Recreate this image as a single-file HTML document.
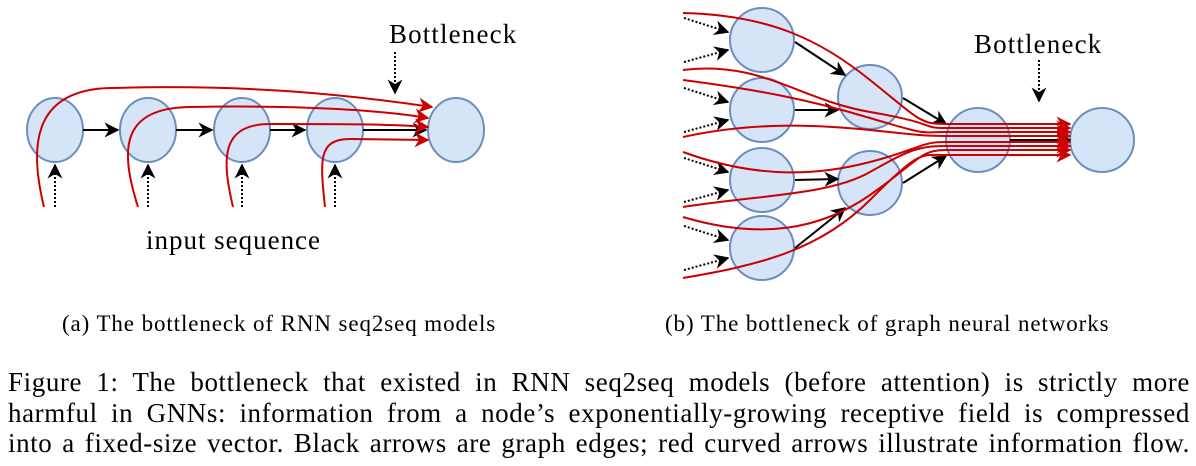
<!DOCTYPE html>
<html><head><meta charset="utf-8"><style>
body{margin:0;width:1196px;height:466px;background:#fff;position:relative;overflow:hidden;font-family:"Liberation Serif",serif;color:#000}
.t{position:absolute;white-space:nowrap}
.fig{position:absolute;left:8px;width:1182px;font-size:27px;letter-spacing:0.6px;line-height:30.5px;text-align:justify;text-align-last:justify;white-space:nowrap}
</style></head><body>
<svg width="1196" height="300" style="position:absolute;left:0;top:0">
<defs>
<marker id="ab2" viewBox="0 0 10 10" refX="9" refY="5" markerWidth="15" markerHeight="15" orient="auto" markerUnits="userSpaceOnUse"><path d="M0,0 L10,5 L0,10 L3,5z" fill="#000"/></marker>
<marker id="ar" viewBox="0 0 10 10" refX="9" refY="5" markerWidth="15" markerHeight="15" orient="auto" markerUnits="userSpaceOnUse"><path d="M0,0 L10,5 L0,10 L3,5z" fill="#c00"/></marker>
</defs>
<g fill="#d6e4f7" stroke="#6c8ebf" stroke-width="2">
<ellipse cx="55" cy="130" rx="28" ry="32"/><ellipse cx="148" cy="130" rx="28" ry="32"/><ellipse cx="242" cy="130" rx="28" ry="32"/><ellipse cx="335" cy="130" rx="28" ry="32"/><ellipse cx="456" cy="130" rx="28" ry="32"/>
</g>
<g stroke="#000" stroke-width="2" fill="none">
<line x1="83" y1="130" x2="118" y2="130" marker-end="url(#ab2)"/>
<line x1="176" y1="130" x2="212" y2="130" marker-end="url(#ab2)"/>
<line x1="270" y1="130" x2="305" y2="130" marker-end="url(#ab2)"/>
<line x1="363" y1="130" x2="426" y2="130" marker-end="url(#ab2)"/>
</g>
<g stroke="#000" stroke-width="2" stroke-dasharray="2,2" fill="none">
<line x1="55" y1="207" x2="55" y2="165" marker-end="url(#ab2)"/>
<line x1="148" y1="207" x2="148" y2="165" marker-end="url(#ab2)"/>
<line x1="242" y1="207" x2="242" y2="165" marker-end="url(#ab2)"/>
<line x1="335" y1="207" x2="335" y2="165" marker-end="url(#ab2)"/>
<line x1="395" y1="52" x2="395" y2="93" marker-end="url(#ab2)"/>
<line x1="1039" y1="60" x2="1039" y2="101" marker-end="url(#ab2)"/>
</g>
<g stroke="#c00" stroke-width="2" fill="none" marker-end="url(#ar)">
<path d="M44,207 C30,150 30,90 110,88 C250,84 350,95 432,107"/>
<path d="M138,207 C120,150 120,108 190,107 C300,105 380,110 428,118"/>
<path d="M233,207 C222,160 220,124 270,124 C340,124 390,124 428,127"/>
<path d="M325,207 C320,160 318,139 350,139 L428,140"/>
</g>
<g fill="#d6e4f7" stroke="#6c8ebf" stroke-width="2">
<circle cx="762" cy="40" r="32"/><circle cx="762" cy="110" r="32"/><circle cx="762" cy="180" r="32"/><circle cx="762" cy="248" r="32"/>
<circle cx="870" cy="97" r="32"/><circle cx="870" cy="183" r="32"/><circle cx="978" cy="140" r="32"/><circle cx="1102" cy="140" r="32"/>
</g>
<g stroke="#000" stroke-width="2" fill="none">
<line x1="795" y1="42" x2="845" y2="75" marker-end="url(#ab2)"/>
<line x1="795" y1="110" x2="838" y2="110" marker-end="url(#ab2)"/>
<line x1="795" y1="180" x2="838" y2="179" marker-end="url(#ab2)"/>
<line x1="795" y1="248" x2="845" y2="208" marker-end="url(#ab2)"/>
<line x1="903" y1="98" x2="946" y2="124" marker-end="url(#ab2)"/>
<line x1="903" y1="183" x2="946" y2="156" marker-end="url(#ab2)"/>
<line x1="1010" y1="140" x2="1070" y2="140" marker-end="url(#ab2)"/>
</g>
<g stroke="#000" stroke-width="2" stroke-dasharray="2,2" fill="none">
<line x1="684" y1="18" x2="728" y2="32" marker-end="url(#ab2)"/><line x1="684" y1="62" x2="728" y2="50" marker-end="url(#ab2)"/>
<line x1="684" y1="88" x2="728" y2="102" marker-end="url(#ab2)"/><line x1="684" y1="132" x2="728" y2="120" marker-end="url(#ab2)"/>
<line x1="684" y1="158" x2="728" y2="172" marker-end="url(#ab2)"/><line x1="684" y1="202" x2="728" y2="190" marker-end="url(#ab2)"/>
<line x1="684" y1="226" x2="728" y2="240" marker-end="url(#ab2)"/><line x1="684" y1="270" x2="728" y2="258" marker-end="url(#ab2)"/>
</g>
<g stroke="#c00" stroke-width="2" fill="none" marker-end="url(#ar)">
<path d="M683,13 C770,15 820,40 870,80 S920,124 945,124 L1070,124"/>
<path d="M683,70 C760,60 800,100 870,112 S920,128 945,128 L1070,128"/>
<path d="M683,80 C760,90 810,100 870,118 S920,132 945,132 L1070,132"/>
<path d="M683,137 C760,120 830,126 870,130 S920,136 945,136 L1070,136"/>
<path d="M683,152 C760,180 820,175 870,162 S920,142 945,142 L1070,142"/>
<path d="M683,207 C760,195 830,195 870,172 S920,146 945,146 L1070,146"/>
<path d="M683,217 C760,240 820,230 870,195 S920,150 945,150 L1070,150"/>
<path d="M683,278 C760,265 820,250 870,200 S920,155 945,155 L1070,155"/>
</g>
<text x="389" y="43" font-family="Liberation Serif,serif" font-size="27" letter-spacing="0.8" textLength="128">Bottleneck</text>
<text x="974" y="53" font-family="Liberation Serif,serif" font-size="27" letter-spacing="0.8" textLength="128">Bottleneck</text>
<text x="146" y="249" font-family="Liberation Serif,serif" font-size="27" textLength="174">input sequence</text>
</svg>
<div class="t" style="left:62px;top:311px;font-size:23px;letter-spacing:0.9px">(a) The bottleneck of RNN seq2seq models</div>
<div class="t" style="left:665px;top:311px;font-size:23px;letter-spacing:0.9px">(b) The bottleneck of graph neural networks</div>
<div class="fig" style="top:367px">Figure 1: The bottleneck that existed in RNN seq2seq models (before attention) is strictly more</div>
<div class="fig" style="top:398px">harmful in GNNs: information from a node’s exponentially-growing receptive field is compressed</div>
<div class="fig" style="top:428px">into a fixed-size vector. Black arrows are graph edges; red curved arrows illustrate information flow.</div>
</body></html>
